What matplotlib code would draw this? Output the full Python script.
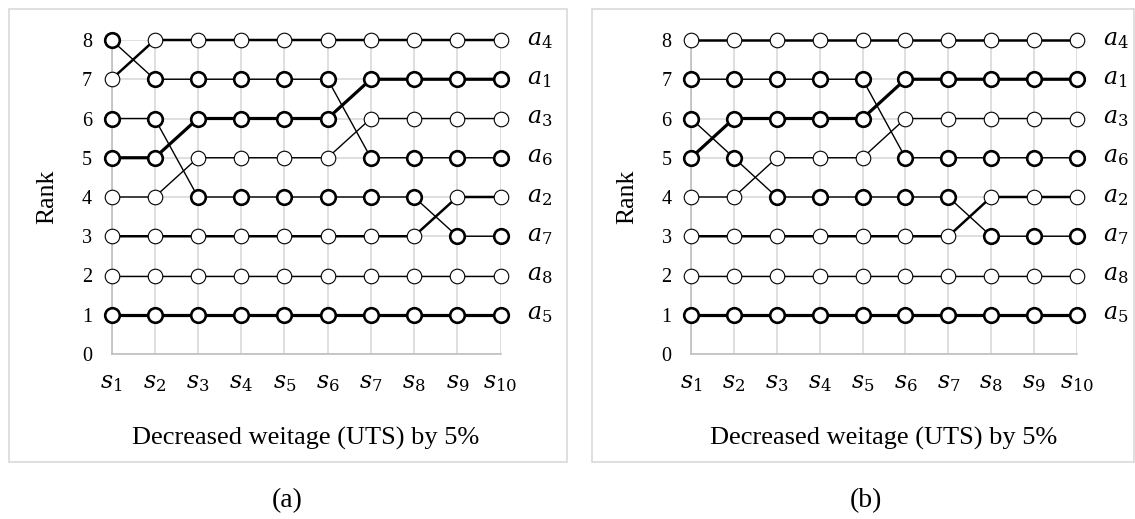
import numpy as np
import matplotlib.pyplot as plt
from matplotlib.patches import Rectangle

plt.rcParams['font.family'] = 'Liberation Serif'
plt.rcParams['mathtext.fontset'] = 'dejavuserif'

scenarios = [r'$s_{%d}$' % i for i in range(1, 11)]
ranks = [0, 1, 2, 3, 4, 5, 6, 7, 8]
names = ['a1', 'a2', 'a3', 'a4', 'a5', 'a6', 'a7', 'a8']

# panel (a) - rank of each alternative per scenario
a_a1 = [5, 5, 6, 6, 6, 6, 7, 7, 7, 7]
a_a2 = [3, 3, 3, 3, 3, 3, 3, 3, 4, 4]
a_a3 = [4, 4, 5, 5, 5, 5, 6, 6, 6, 6]
a_a4 = [7, 8, 8, 8, 8, 8, 8, 8, 8, 8]
a_a5 = [1, 1, 1, 1, 1, 1, 1, 1, 1, 1]
a_a6 = [8, 7, 7, 7, 7, 7, 5, 5, 5, 5]
a_a7 = [6, 6, 4, 4, 4, 4, 4, 4, 3, 3]
a_a8 = [2, 2, 2, 2, 2, 2, 2, 2, 2, 2]

# panel (b)
b_a1 = [5, 6, 6, 6, 6, 7, 7, 7, 7, 7]
b_a2 = [3, 3, 3, 3, 3, 3, 3, 4, 4, 4]
b_a3 = [4, 4, 5, 5, 5, 6, 6, 6, 6, 6]
b_a4 = [8, 8, 8, 8, 8, 8, 8, 8, 8, 8]
b_a5 = [1, 1, 1, 1, 1, 1, 1, 1, 1, 1]
b_a6 = [7, 7, 7, 7, 7, 5, 5, 5, 5, 5]
b_a7 = [6, 5, 4, 4, 4, 4, 4, 3, 3, 3]
b_a8 = [2, 2, 2, 2, 2, 2, 2, 2, 2, 2]

panel_a = [a_a1, a_a2, a_a3, a_a4, a_a5, a_a6, a_a7, a_a8]
panel_b = [b_a1, b_a2, b_a3, b_a4, b_a5, b_a6, b_a7, b_a8]

# line width / marker edge width per alternative
lws = [2.3, 1.8, 1.0, 1.8, 2.3, 1.0, 1.0, 1.0]
mews = [1.9, 0.8, 0.8, 0.8, 1.9, 1.9, 1.9, 0.8]

W, H = 1135, 519
fig = plt.figure(figsize=(W/100, H/100), dpi=100)

# light grey frames round each chart
for x0, x1 in [(9, 567), (592, 1134)]:
    fig.patches.append(Rectangle((x0/W, 1 - 462/H), (x1 - x0)/W, (462 - 9)/H,
                                 transform=fig.transFigure, fill=False,
                                 edgecolor='#d9d9d9', lw=1.2))

def draw(ax, data):
    x = np.arange(len(scenarios))
    for i, r in enumerate(data):
        ax.plot(x, r, color='black', lw=lws[i], marker='o', ms=10.5,
                mfc='white', mec='black', mew=mews[i], clip_on=False, zorder=3)
        ax.annotate(r'$a_{%s}$' % names[i][1:], xy=(x[-1], r[-1]), xytext=(19, 0),
                    textcoords='offset points', va='center', ha='left',
                    fontsize=17, annotation_clip=False)
    ax.set_xlim(0, len(scenarios) - 1)
    ax.set_ylim(0, 8)
    ax.set_xticks(x)
    ax.set_xticklabels(scenarios, fontsize=17)
    ax.set_yticks(ranks)
    ax.set_yticklabels([str(v) for v in ranks], fontsize=14.5)
    ax.tick_params(length=0)
    ax.tick_params(axis='x', pad=14)
    ax.tick_params(axis='y', pad=14)
    ax.grid(True, color='#d9d9d9', lw=1.2, zorder=0)
    ax.set_axisbelow(True)
    for s in ['top', 'right']:
        ax.spines[s].set_visible(False)
    for s in ['left', 'bottom']:
        ax.spines[s].set_color('#bfbfbf')
        ax.spines[s].set_linewidth(1.2)
    ax.set_ylabel('Rank', fontsize=18.5)
    ax.yaxis.set_label_coords(-0.137, 0.5)
    ax.set_xlabel('Decreased weitage (UTS) by 5%', fontsize=19)
    ax.xaxis.set_label_coords(0.5, -0.232)

ax1 = fig.add_axes([111.5/W, 1 - 354/H, 389/W, 314/H])
ax2 = fig.add_axes([691/W, 1 - 354/H, 386/W, 314/H])
draw(ax1, panel_a)
draw(ax2, panel_b)

fig.text(287/W, 1 - 501/H, '(a)', ha='center', va='center', fontsize=20)
fig.text(866/W, 1 - 501/H, '(b)', ha='center', va='center', fontsize=20)

fig.savefig('out.png', dpi=100)
